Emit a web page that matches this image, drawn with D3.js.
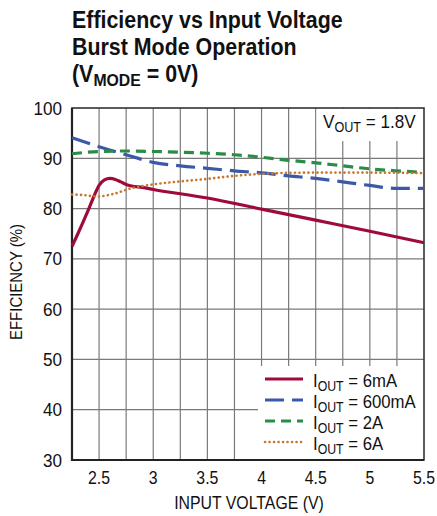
<!DOCTYPE html>
<html><head><meta charset="utf-8">
<script src="https://cdn.jsdelivr.net/npm/d3@7"></script>
<style>
body{margin:0;background:#fff;}
text{font-family:"Liberation Sans",Arial,sans-serif;fill:#111;}
</style></head>
<body><svg id="c" width="437" height="516"></svg>
<script>
const xTicks=[2.5,3,3.5,4,4.5,5,5.5];
const yTicks=[30,40,50,60,70,80,90,100];
const xGrid=[2.5,2.75,3,3.25,3.5,3.75,4,4.25,4.5,4.75,5,5.25];
const seriesNames=["6mA","600mA","2A","6A"];
const v6mA=[2.25,2.3,2.35,2.4,2.45,2.5,2.55,2.6,2.65,2.7,2.75,2.8,2.9,3.0,3.5,4.0,4.5,5.0,5.5];
const e6mA=[72.5,74.8,77.2,79.7,82.3,84.6,85.7,86.0,85.8,85.3,84.8,84.5,84.2,83.8,82.1,79.9,77.7,75.5,73.2];
const v600mA=[2.25,2.5,2.75,3.0,3.25,3.5,3.75,4.0,4.25,4.5,4.75,5.0,5.25,5.5];
const e600mA=[94.1,92.3,90.7,89.2,88.5,88.0,87.5,87.1,86.5,86.0,85.3,84.6,84.0,84.0];
const v2A=[2.25,2.5,2.75,3.0,3.25,3.5,3.75,4.0,4.25,4.5,4.75,5.0,5.25,5.5];
const e2A=[90.9,91.35,91.45,91.35,91.2,91.0,90.7,90.2,89.6,89.1,88.5,87.9,87.5,87.2];
const v6A=[2.25,2.35,2.48,2.63,2.79,3.0,3.25,3.5,3.75,4.0,4.25,4.5,5.0,5.5];
const e6A=[82.8,82.7,82.4,82.9,84.0,84.8,85.4,85.9,86.5,86.9,87.1,87.15,87.15,87.05];

const svg=d3.select("#c");
const L=72,R=424,T=108,B=460;
const x=d3.scaleLinear().domain([2.25,5.5]).range([L,R]);
const y=d3.scaleLinear().domain([30,100]).range([B,T]);
function condense(sel,k){sel.each(function(){const w=this.getComputedTextLength();d3.select(this).attr("textLength",w*k).attr("lengthAdjust","spacingAndGlyphs");});}

// grid
svg.append("g").selectAll("line").data(xGrid).join("line")
 .attr("x1",d=>x(d)).attr("x2",d=>x(d)).attr("y1",T).attr("y2",B)
 .attr("stroke","#7a7a7a").attr("stroke-width",1.2);
svg.append("g").selectAll("line").data(yTicks.slice(1,-1)).join("line")
 .attr("x1",L).attr("x2",R).attr("y1",d=>y(d)).attr("y2",d=>y(d))
 .attr("stroke","#7a7a7a").attr("stroke-width",1.2);

// VOUT label box
svg.append("rect").attr("x",x(4.5)+1).attr("y",T+1).attr("width",R-x(4.5)-2).attr("height",32).attr("fill","#fff");
const vt=svg.append("text").attr("x",323).attr("y",128).attr("font-size",19);
vt.append("tspan").text("V");
vt.append("tspan").attr("font-size",14).attr("dy",4).text("OUT");
vt.append("tspan").attr("dy",-4).text(" = 1.8V");
condense(vt,0.9);

// legend box
svg.append("rect").attr("x",258).attr("y",366).attr("width",R-258).attr("height",B-366).attr("fill","#fff");

// frame
svg.append("rect").attr("x",L).attr("y",T).attr("width",R-L).attr("height",B-T)
 .attr("fill","none").attr("stroke","#333").attr("stroke-width",1.6);
svg.append("line").attr("x1",L).attr("x2",L).attr("y1",T).attr("y2",B+1).attr("stroke","#222").attr("stroke-width",2.2);
svg.append("line").attr("x1",L-1).attr("x2",R).attr("y1",B).attr("y2",B).attr("stroke","#222").attr("stroke-width",2.2);

// series
const styles=[
 {v:v6mA,e:e6mA,c:"#9e0b38",w:3.2,dash:null,cap:"butt"},
 {v:v600mA,e:e600mA,c:"#3a59a8",w:3.2,dash:"19,8",cap:"butt"},
 {v:v2A,e:e2A,c:"#2a8c45",w:3.2,dash:"10,6",cap:"butt"},
 {v:v6A,e:e6A,c:"#c7772f",w:2.6,dash:"0.1,4.4",cap:"round"}];
const line=d3.line().x(d=>x(d[0])).y(d=>y(d[1])).curve(d3.curveMonotoneX);
styles.forEach(s=>{
 svg.append("path").datum(s.v.map((v,i)=>[v,s.e[i]])).attr("d",line)
  .attr("fill","none").attr("stroke",s.c).attr("stroke-width",s.w)
  .attr("stroke-dasharray",s.dash).attr("stroke-linecap",s.cap);
});

// legend
const ly=[379,400,421,442];
styles.forEach((s,i)=>{
 svg.append("line").attr("x1",265).attr("x2",303).attr("y1",ly[i]).attr("y2",ly[i])
  .attr("stroke",s.c).attr("stroke-width",s.w).attr("stroke-dasharray",s.dash).attr("stroke-linecap",s.cap);
 const t=svg.append("text").attr("x",313).attr("y",ly[i]+7.5).attr("font-size",19);
 t.append("tspan").text("I");
 t.append("tspan").attr("font-size",14).attr("dy",4).text("OUT");
 t.append("tspan").attr("dy",-4).text(" = "+seriesNames[i]);
 condense(t,0.88);
});

// ticks labels
const yl=svg.append("g").selectAll("text").data(yTicks).join("text")
 .attr("x",62).attr("y",d=>y(d)+6.5).attr("text-anchor","end").attr("font-size",19).text(d=>d);
condense(yl,0.9);
const xl=svg.append("g").selectAll("text").data(xTicks).join("text")
 .attr("x",d=>x(d)).attr("y",484).attr("text-anchor","middle").attr("font-size",18).text(d=>d);
condense(xl,0.88);

// axis titles
const xt=svg.append("text").attr("x",(L+R)/2+1).attr("y",509).attr("text-anchor","middle").attr("font-size",18).text("INPUT VOLTAGE (V)");
condense(xt,0.88);
const ytl=svg.append("text").attr("transform","translate(22,282) rotate(-90)").attr("text-anchor","middle").attr("font-size",17).text("EFFICIENCY (%)");
condense(ytl,0.88);

// title
const tg=svg.append("g").attr("font-weight","bold");
const t1=tg.append("text").attr("x",72).attr("y",28).attr("font-size",23).attr("font-weight","bold").text("Efficiency vs Input Voltage");
const t2=tg.append("text").attr("x",72).attr("y",55).attr("font-size",23).attr("font-weight","bold").text("Burst Mode Operation");
const t3=tg.append("text").attr("x",72).attr("y",82).attr("font-size",23).attr("font-weight","bold");
t3.append("tspan").text("(V");
t3.append("tspan").attr("font-size",17).attr("dy",4).text("MODE");
t3.append("tspan").attr("dy",-4).text(" = 0V)");
condense(t1,0.93);condense(t2,0.93);condense(t3,0.93);
</script></body></html>
